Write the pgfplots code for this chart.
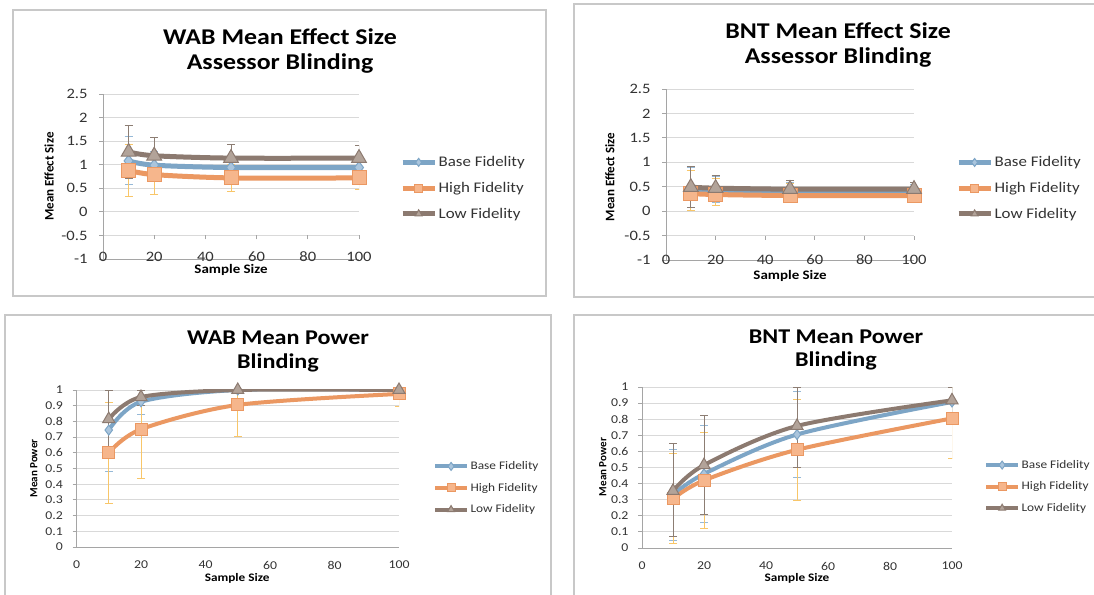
\documentclass[border=0pt]{standalone}
\usepackage{fontspec}
\setmainfont{Carlito}
\usepackage{graphicx}
\usepackage{pgfplots}
\usepackage{pgfplotstable}
\pgfplotsset{compat=1.18}
\newcommand{\hs}[1]{\scalebox{1.15}[1]{#1}}

\definecolor{baseL}{RGB}{125,165,198}
\definecolor{baseF}{RGB}{170,197,221}
\definecolor{baseE}{RGB}{150,185,215}
\definecolor{highL}{RGB}{235,152,98}
\definecolor{highF}{RGB}{246,182,140}
\definecolor{highE}{RGB}{248,198,105}
\definecolor{lowL}{RGB}{140,122,112}
\definecolor{lowF}{RGB}{178,163,153}
\definecolor{lowE}{RGB}{140,125,115}
\definecolor{gridc}{RGB}{217,217,217}
\definecolor{axc}{RGB}{165,165,165}
\definecolor{framec}{RGB}{200,200,200}

% WAB mean effect size
\pgfplotstableread{
x y ep em
10 1.08 0.52 0.50
20 0.99 0.30 0.30
50 0.94 0.25 0.25
100 0.94 0.22 0.22
}\weBase
\pgfplotstableread{
x y ep em
10 0.88 0.55 0.55
20 0.79 0.41 0.41
50 0.72 0.28 0.28
100 0.72 0.25 0.25
}\weHigh
\pgfplotstableread{
x y ep em
10 1.27 0.57 0.57
20 1.19 0.38 0.38
50 1.14 0.29 0.29
100 1.14 0.26 0.26
}\weLow
% BNT mean effect size
\pgfplotstableread{
x y ep em
10 0.42 0.48 0.34
20 0.40 0.32 0.23
50 0.38 0.21 0.18
100 0.38 0.17 0.10
}\beBase
\pgfplotstableread{
x y ep em
10 0.36 0.48 0.35
20 0.34 0.33 0.22
50 0.32 0.24 0.15
100 0.32 0.18 0.10
}\beHigh
\pgfplotstableread{
x y ep em
10 0.49 0.43 0.41
20 0.47 0.27 0.27
50 0.45 0.17 0.17
100 0.45 0.14 0.14
}\beLow
% WAB mean power
\pgfplotstableread{
x y ep em
10 0.745 0.255 0.265
20 0.925 0.075 0.08
50 1.0 0 0.01
100 1.0 0 0.01
}\wpBase
\pgfplotstableread{
x y ep em
10 0.60 0.32 0.32
20 0.75 0.25 0.31
50 0.905 0.095 0.20
100 0.975 0.025 0.08
}\wpHigh
\pgfplotstableread{
x y ep em
10 0.815 0.185 0.185
20 0.955 0.045 0.05
50 1.0 0 0.005
100 1.0 0 0.005
}\wpLow
% BNT mean power
\pgfplotstableread{
x y ep em
10 0.33 0.28 0.28
20 0.46 0.30 0.30
50 0.705 0.27 0.265
100 0.907 0.093 0.10
}\bpBase
\pgfplotstableread{
x y ep em
10 0.305 0.28 0.275
20 0.42 0.30 0.30
50 0.61 0.315 0.315
100 0.805 0.195 0.25
}\bpHigh
\pgfplotstableread{
x y ep em
10 0.355 0.295 0.285
20 0.515 0.31 0.305
50 0.758 0.242 0.26
100 0.917 0.083 0.09
}\bpLow

\pgfplotsset{
  excel/.style={
    scale only axis, anchor=south west,
    xmin=0, xmax=100, xtick={0,20,40,60,80,100},
    axis lines*=left,
    axis line style={draw=axc, line width=0.8pt},
    ymajorgrids, grid style={draw=gridc, line width=0.8pt},
    tick align=outside, major tick length=4pt,
    tick style={draw=axc, line width=0.8pt},
    /pgf/number format/assume math mode=true,
    ticklabel style={text=black!80},
    xticklabel={\hs{\pgfmathprintnumber{\tick}}},
    yticklabel={\hs{\pgfmathprintnumber{\tick}}},
    legend cell align=left,
    legend style={draw=none, fill=none, anchor=west, inner sep=0pt, nodes={inner sep=1.5pt, text=black!80}},
    legend image code/.code={\draw[mark repeat=2,mark phase=2,##1, mark size=4pt] plot coordinates {(0pt,0pt) (16pt,0pt) (32pt,0pt)};},
    ylabel style={anchor=center},
    xlabel style={anchor=center},
  },
  ser/.style n args={5}{color=#1, line width=#4, smooth, tension=0.5,
    mark=#5, mark size=#3, mark options={fill=#2, draw=#1, line width=1pt, solid},
    error bars/y dir=both, error bars/y explicit,
    error bars/error bar style={line width=0.8pt},
  },
  ebase/.style={error bars/error bar style={draw=baseE, line width=0.8pt}, error bars/error mark options={rotate=90, draw=baseE, mark size=4pt, line width=0.8pt}},
  ehigh/.style={error bars/error bar style={draw=highE, line width=0.8pt}, error bars/error mark options={rotate=90, draw=highE, mark size=4pt, line width=0.8pt}},
  elow/.style={error bars/error bar style={draw=lowE, line width=0.8pt}, error bars/error mark options={rotate=90, draw=lowE, mark size=4pt, line width=0.8pt}},
}

\begin{document}
\begin{tikzpicture}
\useasboundingbox (0,0) rectangle (1094pt,594pt);
\fill[white] (0,0) rectangle (1094pt,594pt);
\clip (0,0) rectangle (1094pt,594pt);
% frames
\draw[framec, line width=1.2pt] (13pt,298pt) rectangle (546pt,584pt);
\draw[framec, line width=1.2pt] (574pt,297pt) rectangle (1110pt,590pt);
\draw[framec, line width=1.2pt] (5pt,-10pt) rectangle (551pt,279pt);
\draw[framec, line width=1.2pt] (574pt,-10pt) rectangle (1110pt,279pt);
% titles
\node[align=center, font=\fontsize{22.5}{24.5}\selectfont\bfseries] at (280pt,543pt) {\hs{WAB Mean Effect Size}\\\hs{Assessor Blinding}};
\node[align=center, font=\fontsize{22.5}{24.5}\selectfont\bfseries] at (838pt,549pt) {\hs{BNT Mean Effect Size}\\\hs{Assessor Blinding}};
\node[align=center, font=\fontsize{21}{24}\selectfont\bfseries] at (278pt,243pt) {\hs{WAB Mean Power}\\\hs{Blinding}};
\node[align=center, font=\fontsize{21}{22.5}\selectfont\bfseries] at (836pt,244pt) {\hs{BNT Mean Power}\\\hs{Blinding}};

% ---- Panel 1
\begin{axis}[excel, at={(103pt,335pt)}, width=256pt, height=165pt,
  ymin=-1, ymax=2.5, ytick={-1,-0.5,0,0.5,1,1.5,2,2.5},
  xtick style={yshift=23.6pt},
  ticklabel style={font=\fontsize{14.4}{14.4}\selectfont},
  xticklabel style={anchor=center, yshift=6pt},
  yticklabel style={xshift=-8pt},
  xlabel={\hs{Sample Size}}, ylabel={Mean Effect Size},
  xlabel style={at={(axis description cs:0.5,-0.067)}, font=\fontsize{13}{13}\selectfont\bfseries},
  ylabel style={at={(axis description cs:-0.211,0.5)}, font=\fontsize{13}{13}\selectfont\bfseries},
  legend style={at={(1.16,0.43)}, font=\fontsize{14.7}{14.7}\selectfont, row sep=11pt},
]
\addplot[ser={baseL}{baseF}{6pt}{5pt}{diamond*}, ebase] table[x=x,y=y,y error plus=ep,y error minus=em]{\weBase};
\addlegendentry{\hs{Base Fidelity}}
\addplot[ser={highL}{highF}{7pt}{5pt}{square*}, ehigh] table[x=x,y=y,y error plus=ep,y error minus=em]{\weHigh};
\addlegendentry{\hs{High Fidelity}}
\addplot[ser={lowL}{lowF}{8.5pt}{5pt}{triangle*}, elow] table[x=x,y=y,y error plus=ep,y error minus=em]{\weLow};
\addlegendentry{\hs{Low Fidelity}}
\end{axis}

% ---- Panel 2
\begin{axis}[excel, at={(666pt,334pt)}, width=248pt, height=171pt,
  ymin=-1, ymax=2.5, ytick={-1,-0.5,0,0.5,1,1.5,2,2.5},
  xtick style={yshift=24.4pt},
  ticklabel style={font=\fontsize{14.4}{14.4}\selectfont},
  xticklabel style={anchor=center, yshift=4pt},
  yticklabel style={xshift=-8pt},
  xlabel={\hs{Sample Size}}, ylabel={Mean Effect Size},
  xlabel style={at={(axis description cs:0.5,-0.094)}, font=\fontsize{13}{13}\selectfont\bfseries},
  ylabel style={at={(axis description cs:-0.226,0.485)}, font=\fontsize{13}{13}\selectfont\bfseries},
  legend style={at={(1.169,0.42)}, font=\fontsize{14.7}{14.7}\selectfont, row sep=11pt},
]
\addplot[ser={baseL}{baseF}{6pt}{5pt}{diamond*}, ebase] table[x=x,y=y,y error plus=ep,y error minus=em]{\beBase};
\addlegendentry{\hs{Base Fidelity}}
\addplot[ser={highL}{highF}{7pt}{5pt}{square*}, ehigh] table[x=x,y=y,y error plus=ep,y error minus=em]{\beHigh};
\addlegendentry{\hs{High Fidelity}}
\addplot[ser={lowL}{lowF}{8.5pt}{5pt}{triangle*}, elow] table[x=x,y=y,y error plus=ep,y error minus=em]{\beLow};
\addlegendentry{\hs{Low Fidelity}}
\end{axis}

% ---- Panel 3
\begin{axis}[excel, at={(76.5pt,47pt)}, width=322.5pt, height=157pt,
  ymin=0, ymax=1, ytick={0,0.1,0.2,0.3,0.4,0.5,0.6,0.7,0.8,0.9,1},
  xtick style={draw=none},
  ticklabel style={font=\fontsize{12}{12}\selectfont},
  xticklabel style={anchor=center, yshift=-14pt},
  yticklabel style={xshift=-6pt},
  xlabel={\hs{Sample Size}}, ylabel={Mean Power},
  xlabel style={at={(axis description cs:0.498,-0.197)}, font=\fontsize{11.5}{11.5}\selectfont\bfseries},
  ylabel style={at={(axis description cs:-0.132,0.5)}, font=\fontsize{11}{11}\selectfont\bfseries},
  legend style={at={(1.105,0.376)}, font=\fontsize{11.6}{11.6}\selectfont, row sep=9pt},
]
\addplot[ser={baseL}{baseF}{5pt}{4pt}{diamond*}, ebase] table[x=x,y=y,y error plus=ep,y error minus=em]{\wpBase};
\addlegendentry{\hs{Base Fidelity}}
\addplot[ser={highL}{highF}{6pt}{4pt}{square*}, ehigh] table[x=x,y=y,y error plus=ep,y error minus=em]{\wpHigh};
\addlegendentry{\hs{High Fidelity}}
\addplot[ser={lowL}{lowF}{7pt}{4pt}{triangle*}, elow] table[x=x,y=y,y error plus=ep,y error minus=em]{\wpLow};
\addlegendentry{\hs{Low Fidelity}}
\end{axis}

% ---- Panel 4
\begin{axis}[excel, at={(642pt,46pt)}, width=310pt, height=161pt,
  ymin=0, ymax=1, ytick={0,0.1,0.2,0.3,0.4,0.5,0.6,0.7,0.8,0.9,1},
  xtick style={draw=none},
  ticklabel style={font=\fontsize{12}{12}\selectfont},
  xticklabel style={anchor=center, yshift=-14pt},
  yticklabel style={xshift=-6pt},
  xlabel={\hs{Sample Size}}, ylabel={Mean Power},
  xlabel style={at={(axis description cs:0.5,-0.1875)}, font=\fontsize{11.5}{11.5}\selectfont\bfseries},
  ylabel style={at={(axis description cs:-0.126,0.503)}, font=\fontsize{11}{11}\selectfont\bfseries},
  legend style={at={(1.103,0.381)}, font=\fontsize{11.6}{11.6}\selectfont, row sep=9pt},
]
\addplot[ser={baseL}{baseF}{5pt}{4pt}{diamond*}, ebase] table[x=x,y=y,y error plus=ep,y error minus=em]{\bpBase};
\addlegendentry{\hs{Base Fidelity}}
\addplot[ser={highL}{highF}{6pt}{4pt}{square*}, ehigh] table[x=x,y=y,y error plus=ep,y error minus=em]{\bpHigh};
\addlegendentry{\hs{High Fidelity}}
\addplot[ser={lowL}{lowF}{7pt}{4pt}{triangle*}, elow] table[x=x,y=y,y error plus=ep,y error minus=em]{\bpLow};
\addlegendentry{\hs{Low Fidelity}}
\end{axis}
\end{tikzpicture}
\end{document}
